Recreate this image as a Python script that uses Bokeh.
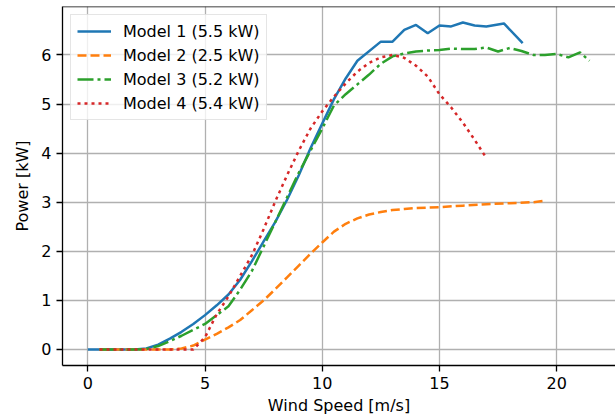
from bokeh.plotting import figure
from bokeh.models import Range1d, Span, FixedTicker
from bokeh.embed import file_html
from bokeh.resources import INLINE

# ---- data ----
m1_x = [0, 0.5, 1, 1.5, 2, 2.5, 3, 3.5, 4, 4.5, 5, 5.5, 6, 6.5, 7, 7.5, 8, 8.5, 9, 9.5,
        10, 10.5, 11, 11.5, 12.5, 13, 13.5, 14, 14.5, 15, 15.5, 16, 16.5, 17, 17.75, 18.55]
m1_y = [0, 0, 0, 0, 0, 0.02, 0.1, 0.22, 0.36, 0.52, 0.7, 0.9, 1.12, 1.42, 1.8, 2.2, 2.6, 3.05, 3.55, 4.1,
        4.6, 5.1, 5.52, 5.88, 6.27, 6.27, 6.51, 6.61, 6.44, 6.6, 6.58, 6.66, 6.6, 6.58, 6.64, 6.24]

m2_x = [0.5, 1, 1.5, 2, 2.5, 3, 3.5, 4, 4.5, 5, 5.5, 6, 6.5, 7, 7.5, 8, 8.5, 9, 9.5, 10,
        10.5, 11, 11.5, 12, 12.5, 13, 13.5, 14, 15, 16, 17, 18, 19, 19.5]
m2_y = [0, 0, 0, 0, 0, 0, 0, 0.02, 0.08, 0.2, 0.32, 0.45, 0.6, 0.8, 1.0, 1.23, 1.47, 1.71, 1.95, 2.18,
        2.4, 2.56, 2.67, 2.75, 2.8, 2.84, 2.86, 2.88, 2.9, 2.93, 2.96, 2.98, 3.0, 3.03]

m3_x = [0.5, 1, 1.5, 2, 2.5, 3, 3.5, 4, 4.5, 5, 5.5, 6, 6.5, 7, 7.5, 8, 8.5, 9, 9.5, 10,
        10.5, 11, 11.5, 12, 12.5, 13, 13.5, 14, 14.5, 15, 15.5, 16, 16.5, 17, 17.5, 18,
        18.5, 19, 19.5, 20, 20.5, 21, 21.4]
m3_y = [0, 0, 0, 0, 0.01, 0.07, 0.17, 0.28, 0.4, 0.52, 0.7, 0.88, 1.22, 1.6, 2.1, 2.6, 3.1, 3.6, 4.05, 4.5,
        4.97, 5.2, 5.4, 5.6, 5.82, 5.97, 6.03, 6.07, 6.09, 6.1, 6.13, 6.12, 6.12, 6.15, 6.07, 6.14,
        6.08, 6.0, 6.0, 6.02, 5.95, 6.05, 5.88]

m4_x = [0.5, 1, 1.5, 2, 2.5, 3, 3.5, 4, 4.5, 5, 5.5, 6, 6.5, 7, 7.5, 8, 8.5, 9, 9.5, 10,
        10.5, 11, 11.5, 12, 12.5, 13, 13.5, 14, 14.5, 15, 15.5, 16, 16.5, 17]
m4_y = [0, 0, 0, 0, 0, 0, 0, 0, 0, 0.25, 0.72, 1.08, 1.5, 1.92, 2.45, 3.02, 3.55, 4.05, 4.5, 4.85,
        5.15, 5.42, 5.66, 5.84, 5.95, 6.0, 5.94, 5.78, 5.56, 5.2, 4.93, 4.62, 4.27, 3.9]

labels = ["Model 1 (5.5 kW)", "Model 2 (2.5 kW)", "Model 3 (5.2 kW)", "Model 4 (5.4 kW)"]
colors = ["#1f77b4", "#ff7f0e", "#2ca02c", "#d62728"]
dashes = ["solid", "9 4", "16 4 3 4", "3 4"]
x_ticks = [0, 5, 10, 15, 20]
y_ticks = [0, 1, 2, 3, 4, 5, 6]
x_label = "Wind Speed [m/s]"
y_label = "Power [kW]"

FONT = "DejaVu Sans"
Y_TOP = 6.986

p = figure(width=615, height=418, output_backend="svg", toolbar_location=None,
           x_range=Range1d(-1.08, 22.51), y_range=Range1d(-0.326, Y_TOP),
           min_border_left=62, min_border_right=0, min_border_top=6, min_border_bottom=53)
p.outline_line_color = None
p.background_fill_color = "white"
p.border_fill_color = "white"

series = [(m1_x, m1_y), (m2_x, m2_y), (m3_x, m3_y), (m4_x, m4_y)]
for (xs, ys), lab, c, d in zip(series, labels, colors, dashes):
    p.line(xs, ys, line_color=c, line_width=2.5, line_dash=d, legend_label=lab)

# axes
p.xaxis.ticker = FixedTicker(ticks=x_ticks)
p.yaxis.ticker = FixedTicker(ticks=y_ticks)
for ax in (p.xaxis, p.yaxis):
    ax.axis_line_color = "black"
    ax.axis_line_width = 1.3
    ax.major_tick_line_color = "black"
    ax.major_tick_line_width = 1.3
    ax.major_tick_out = 6
    ax.major_tick_in = 0
    ax.minor_tick_line_color = None
    ax.major_label_text_font = FONT
    ax.major_label_text_font_size = "16px"
    ax.major_label_text_color = "black"
    ax.major_label_standoff = 5
    ax.axis_label_text_font = FONT
    ax.axis_label_text_font_size = "16px"
    ax.axis_label_text_font_style = "normal"
    ax.axis_label_text_color = "black"
    ax.axis_label_standoff = 6
p.xaxis.axis_label = x_label
p.yaxis.axis_label = y_label
p.xaxis.axis_label_standoff = 4

# top spine
p.add_layout(Span(location=Y_TOP, dimension="width", line_color="black", line_width=1.3))

# grid
p.grid.grid_line_color = "#b0b0b0"
p.grid.grid_line_width = 1.3

# legend
lg = p.legend[0]
lg.location = "top_left"
lg.margin = 8
lg.padding = 6
lg.spacing = 4
lg.glyph_width = 34
lg.glyph_height = 20
lg.label_height = 20
lg.label_standoff = 12
lg.label_text_font = FONT
lg.label_text_font_size = "16px"
lg.label_text_color = "black"
lg.border_line_color = "#cccccc"
lg.border_line_width = 1.3
lg.background_fill_alpha = 0.8

open("out.html", "w").write(file_html(p, INLINE))
